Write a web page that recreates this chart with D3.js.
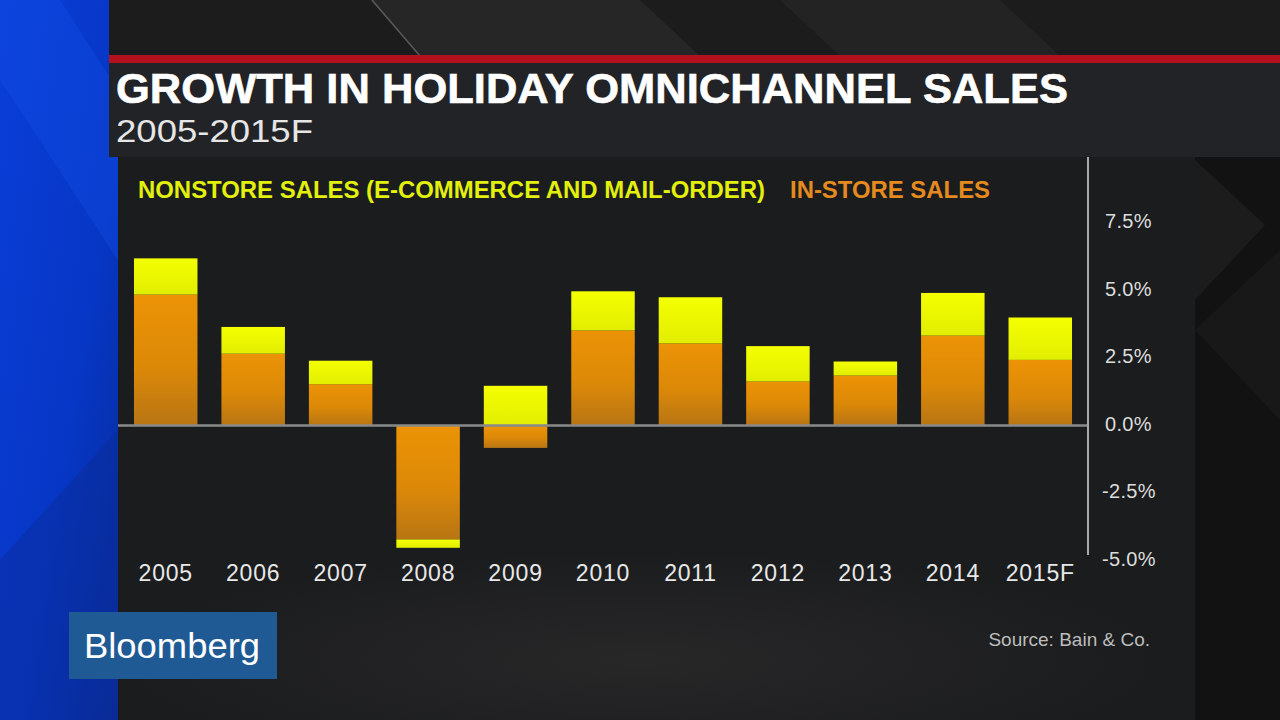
<!DOCTYPE html>
<html>
<head>
<meta charset="utf-8">
<script src="https://cdn.jsdelivr.net/npm/d3@7/dist/d3.min.js"></script>
<style>
html,body{margin:0;padding:0;background:#151515;overflow:hidden;}
svg{display:block;}
</style>
</head>
<body>
<svg id="c" width="1280" height="720"></svg>
<script>
// ---- data ----
const years = ["2005","2006","2007","2008","2009","2010","2011","2012","2013","2014","2015F"];
const inStore = [4.85, 2.66, 1.53, -4.22, -0.83, 3.52, 3.04, 1.63, 1.85, 3.33, 2.43];
const nonstore = [1.34, 0.99, 0.87, -0.31, 1.47, 1.45, 1.71, 1.31, 0.52, 1.58, 1.57];
const yTicks = [-5, -2.5, 0, 2.5, 5, 7.5];
const titleText = "GROWTH IN HOLIDAY OMNICHANNEL SALES";
const subtitleText = "2005-2015F";
const legendLabels = ["NONSTORE SALES (E-COMMERCE AND MAIL-ORDER)", "IN-STORE SALES"];
const sourceText = "Source: Bain & Co.";

const svg = d3.select("#c");
const defs = svg.append("defs");

function lin(id, stops, x2, y2){
  const g = defs.append("linearGradient").attr("id", id)
    .attr("x1",0).attr("y1",0).attr("x2",x2).attr("y2",y2);
  stops.forEach(s => g.append("stop").attr("offset", s[0]).attr("stop-color", s[1])
    .attr("stop-opacity", s[2] === undefined ? 1 : s[2]));
}
lin("gOrange", [[0,"#ec9306"],[0.55,"#dc8908"],[1,"#b87514"]], 0, 1);
lin("gYellow", [[0,"#f4ff00"],[1,"#e2ee02"]], 0, 1);
lin("gBlue", [[0,"#0a3ed8"],[0.6,"#0636c4"],[1,"#0a2c9a"]], 1, 1);
const rg = defs.append("radialGradient").attr("id","gGlow").attr("cx","0.5").attr("cy","0.5").attr("r","0.5");
rg.append("stop").attr("offset",0).attr("stop-color","#2a2a2a").attr("stop-opacity",0.8);
rg.append("stop").attr("offset",1).attr("stop-color","#2a2a2a").attr("stop-opacity",0);

// ---- background ----
svg.append("rect").attr("width",1280).attr("height",720).attr("fill","#161616");
svg.append("rect").attr("x",0).attr("y",0).attr("width",118).attr("height",720).attr("fill","url(#gBlue)");
svg.append("polygon").attr("points","0,0 60,0 118,90 118,260 0,80").attr("fill","#1450e8").attr("opacity",0.35);
svg.append("polygon").attr("points","0,560 118,430 118,720 0,720").attr("fill","#0a2a90").attr("opacity",0.4);
// top dark area with diagonal shading
svg.append("rect").attr("x",109).attr("y",0).attr("width",1171).attr("height",56).attr("fill","#1c1c1d");
svg.append("polygon").attr("points","370,0 640,0 700,56 420,56").attr("fill","#262627");
svg.append("polygon").attr("points","780,0 1000,0 1060,56 840,56").attr("fill","#232324");
svg.append("line").attr("x1",372).attr("y1",0).attr("x2",420).attr("y2",56).attr("stroke","#5a5a5a").attr("stroke-width",1.5);
// right side dark region
svg.append("rect").attr("x",1195).attr("y",157).attr("width",85).attr("height",563).attr("fill","#121212");
svg.append("polygon").attr("points","1195,160 1265,225 1195,300").attr("fill","#1c1c1c");
svg.append("polygon").attr("points","1195,330 1280,250 1280,420").attr("fill","#181818");
// red line & title panel
svg.append("rect").attr("x",109).attr("y",55).attr("width",1171).attr("height",8).attr("fill","#b3111d");
svg.append("rect").attr("x",109).attr("y",63).attr("width",1171).attr("height",94).attr("fill","#222327");
// chart panel
svg.append("rect").attr("x",118).attr("y",157).attr("width",1077).attr("height",563).attr("fill","#1b1c1e");
svg.append("ellipse").attr("cx",640).attr("cy",660).attr("rx",520).attr("ry",110).attr("fill","url(#gGlow)");

// ---- titles ----
svg.append("text").attr("x",116).attr("y",103).text(titleText)
  .attr("font-family","'Liberation Sans', Arial, sans-serif").attr("font-weight","bold")
  .attr("font-size",42).attr("fill","#ffffff").attr("stroke","#ffffff").attr("stroke-width",0.6)
  .attr("textLength",952).attr("lengthAdjust","spacingAndGlyphs");
svg.append("text").attr("x",116).attr("y",142).text(subtitleText)
  .attr("font-family","'Liberation Sans', Arial, sans-serif")
  .attr("font-size",32).attr("fill","#e6e6e6")
  .attr("textLength",197).attr("lengthAdjust","spacingAndGlyphs");

// ---- legend ----
svg.append("text").attr("x",138).attr("y",198).text(legendLabels[0])
  .attr("font-family","'Liberation Sans Narrow','Liberation Sans', Arial, sans-serif").attr("font-weight","bold")
  .attr("font-size",24).attr("fill","#e2f00c")
  .attr("textLength",627).attr("lengthAdjust","spacingAndGlyphs");
svg.append("text").attr("x",790).attr("y",198).text(legendLabels[1])
  .attr("font-family","'Liberation Sans Narrow','Liberation Sans', Arial, sans-serif").attr("font-weight","bold")
  .attr("font-size",24).attr("fill","#e58a1e")
  .attr("textLength",200).attr("lengthAdjust","spacingAndGlyphs");

// ---- scales ----
const x = d3.scaleBand().domain(years).range([122, 1084]).paddingInner(0.274).paddingOuter(0.137);
const y = d3.scaleLinear().domain([-5, 7.5]).range([560.5, 223]);

const table = years.map((yr, i) => ({year: yr, inStore: inStore[i], nonstore: nonstore[i]}));
const stack = d3.stack().keys(["inStore","nonstore"]).offset(d3.stackOffsetDiverging);
const series = stack(table);
const fills = {inStore: "url(#gOrange)", nonstore: "url(#gYellow)"};

svg.append("g").selectAll("g").data(series).join("g")
  .attr("fill", d => fills[d.key])
  .selectAll("rect").data(d => d).join("rect")
  .attr("x", d => x(d.data.year))
  .attr("width", x.bandwidth())
  .attr("y", d => y(Math.max(d[0], d[1])))
  .attr("height", d => Math.abs(y(d[0]) - y(d[1])));

// zero line
svg.append("line").attr("x1",118).attr("x2",1088).attr("y1",y(0)).attr("y2",y(0))
  .attr("stroke","#8a8a8a").attr("stroke-width",2.5);
// vertical axis line
svg.append("line").attr("x1",1088).attr("x2",1088).attr("y1",157).attr("y2",555)
  .attr("stroke","#a8a8a8").attr("stroke-width",2);

// y axis labels
const yAxis = d3.axisRight(y).tickValues(yTicks).tickSize(0).tickPadding(0)
  .tickFormat(d => d.toFixed(1) + "%");
const ya = svg.append("g").attr("transform","translate(1105,-1.5)").call(yAxis);
ya.select(".domain").remove();
ya.selectAll("text").attr("font-family","'Liberation Sans', Arial, sans-serif")
  .attr("font-size",20).attr("letter-spacing",0.3).attr("fill","#dcdcdc").attr("x",0)
  .attr("dx",d => d < 0 ? -3 : 0);

// x axis labels
const xAxis = d3.axisBottom(x).tickSize(0).tickPadding(0);
const xa = svg.append("g").attr("transform","translate(0,565)").call(xAxis);
xa.select(".domain").remove();
xa.selectAll("text").attr("font-family","'Liberation Sans', Arial, sans-serif")
  .attr("font-size",23).attr("letter-spacing",0.8).attr("fill","#e8e8e8").attr("dy","0.71em");

// source
svg.append("text").attr("x",1150).attr("y",646).attr("text-anchor","end").text(sourceText)
  .attr("font-family","'Liberation Sans', Arial, sans-serif").attr("font-size",19).attr("fill","#bdbdbd");

// Bloomberg box
svg.append("rect").attr("x",69).attr("y",612).attr("width",208).attr("height",67).attr("fill","#1f5a94");
svg.append("text").attr("x",84).attr("y",658).text("Bloomberg")
  .attr("font-family","'Liberation Sans', Arial, sans-serif").attr("font-size",35).attr("fill","#ffffff")
  .attr("textLength",176).attr("lengthAdjust","spacingAndGlyphs");
</script>
</body>
</html>
